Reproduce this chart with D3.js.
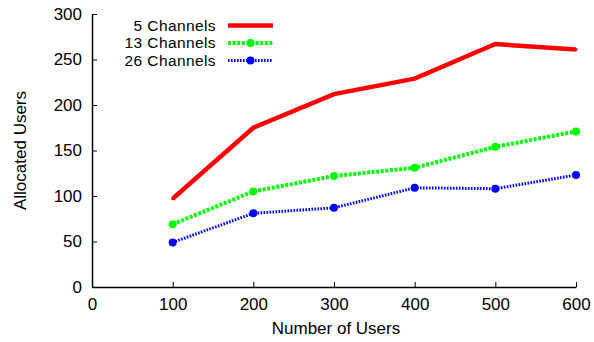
<!DOCTYPE html>
<html>
<head>
<meta charset="utf-8">
<script src="https://cdn.jsdelivr.net/npm/d3@7"></script>
<style>
  html, body { margin: 0; padding: 0; background: #fff; }
  svg text { font-family: "Liberation Sans", Arial, Helvetica, sans-serif; fill: #000; }
</style>
</head>
<body>
<svg id="chart" width="594" height="342"></svg>
<script>
// Allocated users versus number of users, per channel count
const users = [100, 200, 300, 400, 500, 600];
const fiveChannels = [97, 175, 212, 229, 267, 261];
const thirteenChannels = [69, 105, 122, 131, 154, 171];
const twentySixChannels = [49, 81, 87, 109, 108, 123];
const seriesNames = ["5 Channels", "13 Channels", "26 Channels"];
const xTicks = [0, 100, 200, 300, 400, 500, 600];
const yTicks = [0, 50, 100, 150, 200, 250, 300];

const FONT = 17;
const LEGEND_FONT = 15.5;

const series = [
  { name: seriesNames[0], values: fiveChannels, color: "#ff0000", width: 4.5, dash: null, r: 1.5 },
  { name: seriesNames[1], values: thirteenChannels, color: "#00ff00", width: 4, dash: "3,1.6", r: 4 },
  { name: seriesNames[2], values: twentySixChannels, color: "#0000ff", width: 3, dash: "1.6,1.4", r: 4 }
];

const svg = d3.select("#chart");
const margin = { left: 92, right: 18, top: 14, bottom: 55 };
const W = 594, H = 342;

const x = d3.scaleLinear().domain([0, 600]).range([margin.left, W - margin.right]);
const y = d3.scaleLinear().domain([0, 300]).range([H - margin.bottom, margin.top]);

// Axes: ticks point inward
const xAxis = d3.axisBottom(x).tickValues(xTicks).tickSizeInner(-5).tickSizeOuter(0).tickPadding(11);
const yAxis = d3.axisLeft(y).tickValues(yTicks).tickSizeInner(-5).tickSizeOuter(0).tickPadding(10);

const gx = svg.append("g").attr("transform", `translate(0,${y(0)})`).call(xAxis);
const gy = svg.append("g").attr("transform", `translate(${x(0)},0)`).call(yAxis);
[gx, gy].forEach(g => {
  g.select(".domain").attr("stroke", "#000").attr("stroke-width", 1.5);
  g.selectAll(".tick line").attr("stroke", "#000").attr("stroke-width", 1);
  g.selectAll(".tick text").attr("font-size", FONT).attr("font-family", "Liberation Sans, Arial, sans-serif").attr("fill", "#000");
});

// Axis titles
svg.append("text")
  .attr("x", (x(0) + x(600)) / 2 + 2).attr("y", 334)
  .attr("text-anchor", "middle").attr("font-size", FONT)
  .text("Number of Users");
svg.append("text")
  .attr("transform", `translate(26,${(y(0) + y(300)) / 2}) rotate(-90)`)
  .attr("text-anchor", "middle").attr("font-size", FONT)
  .text("Allocated Users");

// Series lines and markers
const line = d3.line().x((d, i) => x(users[i])).y(d => y(d));
series.forEach(s => {
  svg.append("path")
    .datum(s.values)
    .attr("d", line)
    .attr("fill", "none")
    .attr("stroke", s.color)
    .attr("stroke-width", s.width)
    .attr("stroke-dasharray", s.dash)
    .attr("stroke-linejoin", "miter");
  svg.selectAll(null)
    .data(s.values)
    .enter().append("circle")
    .attr("cx", (d, i) => x(users[i]))
    .attr("cy", d => y(d))
    .attr("r", s.r)
    .attr("fill", s.color);
});

// Legend
const legend = svg.append("g");
series.forEach((s, i) => {
  const ly = 25.5 + i * 17.5;
  legend.append("text")
    .attr("x", 216).attr("y", ly).attr("dy", "0.35em")
    .attr("text-anchor", "end").attr("font-size", LEGEND_FONT)
    .attr("letter-spacing", 0.4)
    .text(s.name);
  legend.append("line")
    .attr("x1", 228).attr("x2", 273).attr("y1", ly).attr("y2", ly)
    .attr("stroke", s.color).attr("stroke-width", s.width)
    .attr("stroke-dasharray", s.dash);
  legend.append("circle")
    .attr("cx", 250.5).attr("cy", ly).attr("r", s.r).attr("fill", s.color);
});
</script>
</body>
</html>
